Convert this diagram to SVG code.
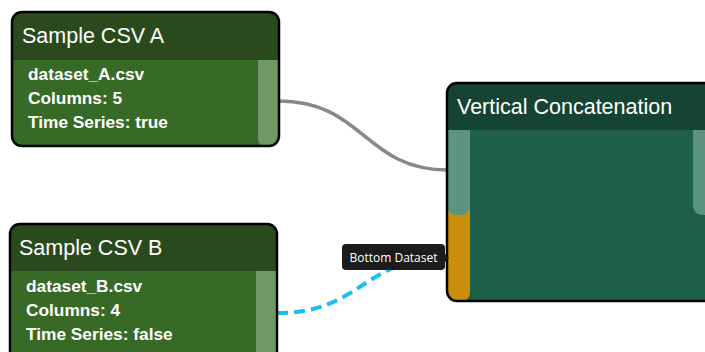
<svg xmlns="http://www.w3.org/2000/svg" width="705" height="352" viewBox="0 0 705 352">
  <style>
    .frame { fill: none; stroke: #000; stroke-width: 2.5; }
    .title { font-family: "Liberation Sans", Arial, sans-serif; font-size: 21.5px; fill: #fff; }
    .info { font-family: "Liberation Sans", Arial, sans-serif; font-size: 17.3px; font-weight: bold; fill: #fff; }
    .tip { font-family: "Open Sans", "Noto Sans", sans-serif; font-size: 12px; fill: #fff; }
    .hdr-src { fill: #2a4a1d; }
    .body-src { fill: #376927; }
    .port-src { fill: #6f9866; }
    .hdr-op { fill: #164434; }
    .body-op { fill: #1d5f48; }
    .port-op { fill: #5d9382; }
    .port-active { fill: #c98f0a; }
  </style>
  <defs>
    <clipPath id="clipA"><rect x="12" y="12" width="267" height="134" rx="10"/></clipPath>
    <clipPath id="clipB"><rect x="10" y="224" width="267" height="150" rx="10"/></clipPath>
    <clipPath id="clipV"><rect x="447" y="83" width="290" height="218" rx="10"/></clipPath>
  </defs>
  <rect width="705" height="352" fill="#fff"/>

  <g id="connectors" fill="none">
    <path d="M279,101 C364,101 364,170 448,170" stroke="#888" stroke-width="3.5"/>
    <path d="M277,313 C362,313 362,258 447,258" stroke="#18bff3" stroke-width="4" stroke-dasharray="11 6"/>
  </g>

  <g id="node-csv-a">
    <g clip-path="url(#clipA)">
      <rect class="hdr-src" x="12" y="12" width="267" height="48"/>
      <rect class="body-src" x="12" y="60" width="267" height="86"/>
      <path class="port-src" d="M258,60 H280 V147 H266 A8,8 0 0 1 258,139 Z"/>
    </g>
    <rect class="frame" x="12" y="12" width="267" height="134" rx="10"/>
    <text class="title" x="22" y="43">Sample CSV A</text>
    <text class="info" x="28" y="80">dataset_A.csv</text>
    <text class="info" x="28" y="104">Columns: 5</text>
    <text class="info" x="28" y="128">Time Series: true</text>
  </g>

  <g id="node-csv-b">
    <g clip-path="url(#clipB)">
      <rect class="hdr-src" x="10" y="224" width="267" height="47"/>
      <rect class="body-src" x="10" y="271" width="267" height="100"/>
      <rect class="port-src" x="256" y="271" width="22" height="100"/>
    </g>
    <rect class="frame" x="10" y="224" width="267" height="150" rx="10"/>
    <text class="title" x="19" y="255">Sample CSV B</text>
    <text class="info" x="26" y="292">dataset_B.csv</text>
    <text class="info" x="26" y="316">Columns: 4</text>
    <text class="info" x="26" y="340">Time Series: false</text>
  </g>

  <g id="node-concat">
    <g clip-path="url(#clipV)">
      <rect class="hdr-op" x="447" y="83" width="290" height="47"/>
      <rect class="body-op" x="447" y="130" width="290" height="171"/>
      <rect class="port-active" x="447" y="206" width="23" height="96" rx="9"/>
      <rect class="port-active" x="447" y="206" width="23" height="20"/>
      <path class="port-op" d="M447,130 H470 V206 A9,9 0 0 1 461,215 H456 A9,9 0 0 1 447,206 Z"/>
      <path class="port-op" d="M693,130 H710 V215 H702 A9,9 0 0 1 693,206 Z"/>
    </g>
    <rect class="frame" x="447" y="83" width="290" height="218" rx="10"/>
    <text class="title" x="457" y="114">Vertical Concatenation</text>
  </g>

  <g id="tooltip">
    <rect x="342" y="244" width="103" height="26" rx="4" fill="#1c1c1c"/>
    <path d="M444,253 L449,258 L444,263 Z" fill="#1c1c1c"/>
    <text class="tip" x="393.5" y="262" text-anchor="middle">Bottom Dataset</text>
  </g>
</svg>
